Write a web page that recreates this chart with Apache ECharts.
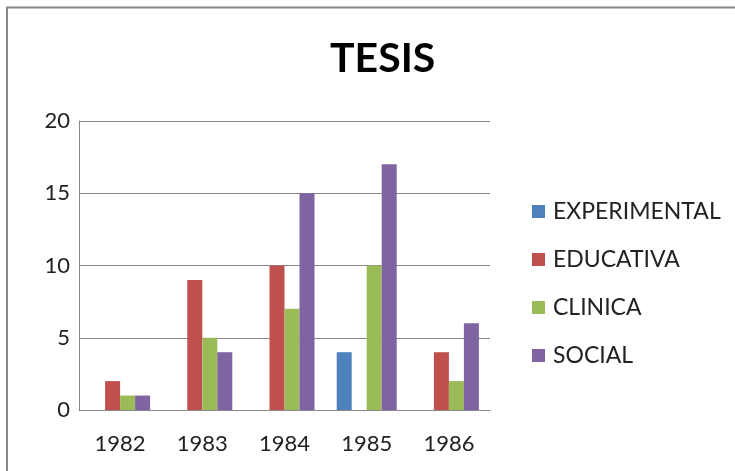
<!DOCTYPE html>
<html>
<head>
<meta charset="utf-8">
<script src="https://cdn.jsdelivr.net/npm/echarts@6/dist/echarts.min.js"></script>
<style>
  html, body { margin: 0; padding: 0; background: #fff; }
  #chart { width: 735px; height: 471px; }
</style>
</head>
<body>
<div id="chart"></div>
<script>
// datos de la gráfica
const years = ['1982', '1983', '1984', '1985', '1986']
const experimental = [0, 0, 0, 4, 0]
const educativa = [2, 9, 10, 0, 4]
const clinica = [1, 5, 7, 10, 2]
const social = [1, 4, 15, 17, 6]
const yTicks = [0, 5, 10, 15, 20]

const font = 'Lato, "Open Sans", sans-serif'
const chart = echarts.init(document.getElementById('chart'))

const mkSeries = (name, data, color) => ({
  name,
  type: 'bar',
  data,
  barGap: '0%',
  barCategoryGap: '27%',
  itemStyle: { color },
})

chart.setOption({
  animation: false,
  // marco exterior
  graphic: [{
    type: 'rect',
    shape: { x: 7, y: 7.5, width: 760, height: 500 },
    style: { fill: 'none', stroke: '#888', lineWidth: 2 },
  }],
  title: {
    text: 'TESIS',
    left: 325,
    top: 33,
    textStyle: { fontFamily: font, fontSize: 41, fontWeight: 'bold', color: '#000' },
  },
  grid: { left: 79, right: 245, top: 121, bottom: 61 },
  legend: {
    orient: 'vertical',
    left: 532,
    top: 200,
    padding: 0,
    itemWidth: 13,
    itemHeight: 13,
    itemGap: 25,
    icon: 'rect',
    textStyle: { fontFamily: font, fontSize: 23, lineHeight: 22, color: '#222', padding: [0, 0, 0, 3] },
    data: ['EXPERIMENTAL', 'EDUCATIVA', 'CLINICA', 'SOCIAL'],
  },
  xAxis: {
    type: 'category',
    data: years,
    axisTick: { show: false },
    axisLine: { lineStyle: { color: '#888', width: 1 } },
    axisLabel: { fontFamily: font, fontSize: 22, color: '#222', margin: 23 },
  },
  yAxis: {
    type: 'value',
    min: yTicks[0],
    max: yTicks[yTicks.length - 1],
    interval: 5,
    axisLine: { show: true, lineStyle: { color: '#888' } },
    axisTick: { show: false },
    splitLine: { lineStyle: { color: '#888', width: 1 } },
    axisLabel: { fontFamily: font, fontSize: 22, color: '#222', margin: 9 },
  },
  series: [
    mkSeries('EXPERIMENTAL', experimental, '#4F81BD'),
    mkSeries('EDUCATIVA', educativa, '#C0504D'),
    mkSeries('CLINICA', clinica, '#9BBB59'),
    mkSeries('SOCIAL', social, '#8064A2'),
  ],
})
</script>
</body>
</html>
